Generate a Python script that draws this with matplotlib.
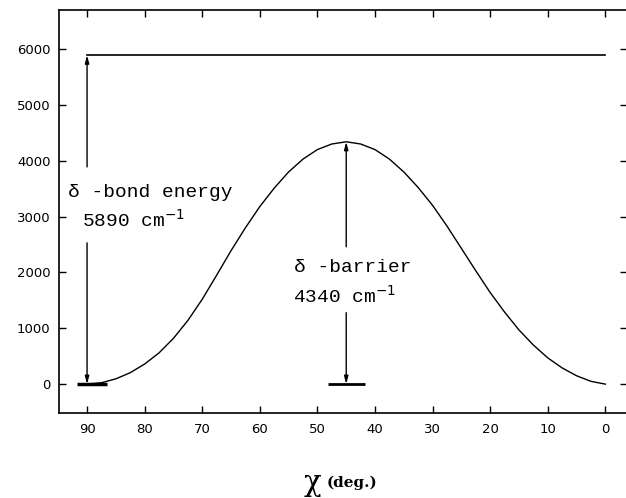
import numpy as np
from matplotlib import pyplot as plt

# torsion angle chi (deg) and delta-bond energy (cm-1)
chi = [0, 2.5, 5, 7.5, 10, 12.5, 15, 17.5, 20, 22.5, 25, 27.5, 30, 32.5, 35,
       37.5, 40, 42.5, 45, 47.5, 50, 52.5, 55, 57.5, 60, 62.5, 65, 67.5, 70,
       72.5, 75, 77.5, 80, 82.5, 85, 87.5, 90]
energy = [0, 50, 150, 290, 470, 700, 970, 1290, 1640, 2030, 2430, 2830, 3200,
          3520, 3800, 4030, 4200, 4300, 4340, 4300, 4200, 4030, 3800, 3510,
          3180, 2800, 2390, 1950, 1520, 1140, 820, 560, 360, 205, 95, 25, 0]

bond_energy = 5890
barrier = 4340
chi_bond = 90
chi_barrier = 45

xticks = [90, 80, 70, 60, 50, 40, 30, 20, 10, 0]
yticks = [0, 1000, 2000, 3000, 4000, 5000, 6000]

fig = plt.figure(figsize=(6.26, 4.98), dpi=100)
ax = fig.add_axes([0.094, 0.171, 0.908, 0.809])

ax.plot(chi, energy, color='black', lw=1.0)
ax.plot([chi_bond, 0], [bond_energy, bond_energy], color='black', lw=1.2)

# baseline bars at zero
ax.plot([91.7, 86.6], [0, 0], color='black', lw=2.5, solid_capstyle='butt')
ax.plot([48.1, 41.8], [0, 0], color='black', lw=2.0, solid_capstyle='butt')

arr = dict(arrowstyle='-|>,head_length=0.45,head_width=0.12', color='black', lw=1.0,
           shrinkA=0, shrinkB=0)

# bond energy arrow (split around the text)
ax.annotate('', xy=(chi_bond, bond_energy), xytext=(chi_bond, 3890), arrowprops=arr)
ax.annotate('', xy=(chi_bond, 0), xytext=(chi_bond, 2530), arrowprops=arr)

# barrier arrow
ax.annotate('', xy=(chi_barrier, barrier), xytext=(chi_barrier, 2460), arrowprops=arr)
ax.annotate('', xy=(chi_barrier, 0), xytext=(chi_barrier, 1280), arrowprops=arr)

lab = dict(family='Liberation Mono', fontsize=14, va='center', ha='left')
ax.text(93.3, 3440, 'δ -bond energy', **lab)
ax.text(90.9, 2940, '5890 cm$^{-1}$', **lab)
ax.text(54.1, 2080, 'δ -barrier', **lab)
ax.text(54.3, 1580, '4340 cm$^{-1}$', **lab)

ax.set_xlim(94.9, -3.8)
ax.set_ylim(-514, 6700)
ax.set_xticks(xticks)
ax.set_yticks(yticks)
ax.tick_params(direction='in', length=5, width=1.0, labelsize=9.5,
               top=True, right=True)
ax.tick_params(axis='x', pad=7)
ax.tick_params(axis='y', pad=6)
for s in ax.spines.values():
    s.set_linewidth(1.2)

fig.text(312 / 626, 1 - 483 / 498, 'χ', fontsize=21, ha='center', va='center',
         family='DejaVu Serif')
fig.text(327 / 626, 1 - 483 / 498, '(deg.)', fontsize=11, ha='left', va='center',
         family='DejaVu Serif', weight='bold')

plt.savefig('out.png', dpi=100)
